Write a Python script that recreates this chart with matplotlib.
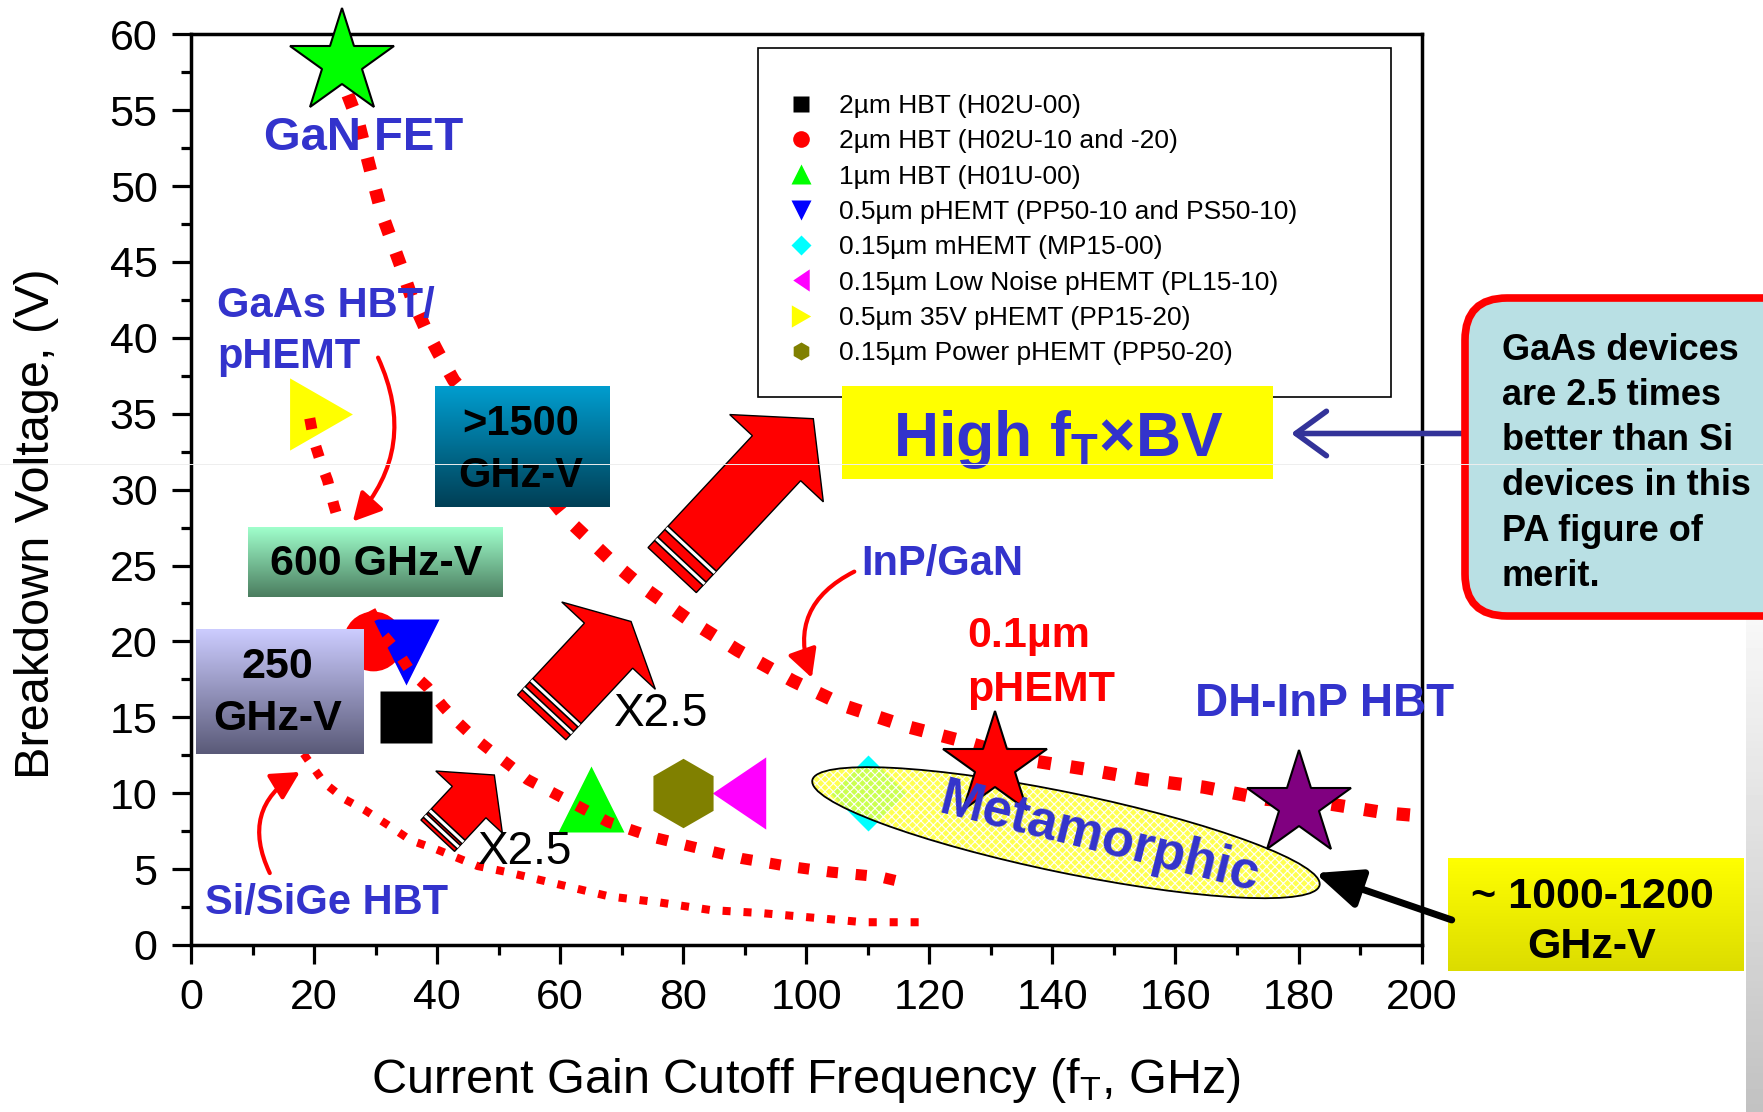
import numpy as np
import matplotlib.pyplot as plt
import matplotlib.patches as mpatches
import matplotlib.transforms as mtransforms
import matplotlib.colors as mcolors
from matplotlib.lines import Line2D

plt.rcParams['font.family'] = ['Liberation Sans', 'DejaVu Sans']
plt.rcParams['mathtext.fontset'] = 'custom'
plt.rcParams['mathtext.rm'] = 'Liberation Sans'
plt.rcParams['mathtext.it'] = 'Liberation Sans:italic'
plt.rcParams['mathtext.bf'] = 'Liberation Sans:bold'
plt.rcParams['hatch.linewidth'] = 0.8

BLUE = '#3333cc'

# foundry processes: cutoff frequency (GHz) and breakdown voltage (V)
process_names = ['2µm HBT (H02U-00)', '2µm HBT (H02U-10 and -20)', '1µm HBT (H01U-00)',
                 '0.5µm pHEMT (PP50-10 and PS50-10)', '0.15µm mHEMT (MP15-00)',
                 '0.15µm Low Noise pHEMT (PL15-10)', '0.5µm 35V pHEMT (PP15-20)',
                 '0.15µm Power pHEMT (PP50-20)']
process_ft = [35, 29.5, 65, 35, 110, 89, 21.2, 80]
process_bv = [15, 20, 9.6, 19.3, 10, 10, 35, 10]
process_colors = ['black', 'red', '#00ff00', 'blue', 'cyan', 'magenta', 'yellow', '#808000']

# other technologies shown as stars
star_ft = [24.5, 130.6, 180]
star_bv = [58.1, 11.8, 9.2]
star_colors = ['#00ff00', 'red', '#800080']

# constant ft*BV guide curves
high_ft = [25.5, 27.2, 28.5, 29.7, 31.0, 32.6, 34.3, 35.9, 38.0, 40.2, 42.7, 61.3, 68.6,
           73.0, 80.6, 88.9, 97.8, 106.6, 116.3, 125.7, 135.8, 145.2, 154.9, 164.6,
           174.7, 184.9, 194.2, 200.0]
high_bv = [56.0, 54.2, 52.1, 50.2, 48.2, 46.4, 44.5, 42.6, 40.7, 39.0, 37.2, 28.0, 25.2,
           23.7, 21.5, 19.4, 17.4, 15.7, 14.4, 13.4, 12.2, 11.6, 10.9, 10.4, 9.6, 9.3,
           8.7, 8.5]
gaas_ft = [19.3, 20.0, 21.1, 22.2, 23.2, 24.0, 27.9, 31.1, 33.6, 35.7, 38.4, 41.0, 43.3,
           45.9, 49.0, 51.9, 54.7, 61.3, 67.8, 75.1, 82.2, 89.5, 96.8, 104.1, 111.9, 116.0]
gaas_bv = [34.7, 33.2, 31.8, 30.6, 29.0, 27.9, 23.0, 20.5, 19.3, 18.0, 17.0, 15.7, 14.7,
           13.7, 12.7, 11.8, 10.9, 9.5, 8.1, 7.1, 6.4, 5.7, 5.2, 4.8, 4.5, 4.1]
si_ft = [18.3, 21.6, 25.0, 28.2, 32.4, 35.7, 39.9, 46.6, 51.4, 59.7, 68.0, 76.2, 84.5,
         92.8, 101.1, 109.3, 118.4]
si_bv = [12.6, 10.7, 9.6, 8.9, 7.8, 6.9, 6.3, 5.2, 4.8, 4.0, 3.2, 2.8, 2.3, 2.1, 1.8,
         1.5, 1.5]

x_ticks = list(range(0, 201, 20))
y_ticks = list(range(0, 61, 5))

tri_left = [(-0.74, 0), (0.74, 1), (0.74, -1), (-0.74, 0)]
tri_right = [(0.87, 0), (-0.87, 1), (-0.87, -1), (0.87, 0)]
process_markers = ['s', 'o', '^', 'v', 'D', tri_left, tri_right, 'h']
process_ms = [37, 43, 48, 48, 39, 52, 52, 50]
process_z = [2, 2, 2, 2.5, 2, 2, 2, 2]
legend_ms = [11, 12, 14, 14, 10, 16, 16, 13]

fig = plt.figure(figsize=(17.63, 11.12), dpi=100)
ax = fig.add_axes([0.10834, 0.15018, 0.69801, 0.81897])
ax.set_autoscale_on(False)
ax.set_xlim(0, 200)
ax.set_ylim(0, 60)


def anchored(x, y):
    # inch-based transform whose origin sits on a data point
    return fig.dpi_scale_trans + mtransforms.ScaledTranslation(x, y, ax.transData)


def gradient_box(x0, x1, y0, y1, top, bottom, z=5):
    t = np.linspace(0, 1, 128)[:, None, None]
    img = np.array(mcolors.to_rgb(top)) * (1 - t) + np.array(mcolors.to_rgb(bottom)) * t
    im = ax.imshow(img, extent=(x0, x1, y0, y1), origin='upper', aspect='auto',
                   interpolation='bilinear', zorder=z)
    im.set_clip_on(False)


def block_arrow(x, y, length, shaft, head_w, head_l, stripes, angle=47):
    k = 0.72
    L, s, hw, hl = length * k, shaft * k, head_w * k, head_l * k
    verts = [(0, -s / 2), (L - hl, -s / 2), (L - hl, -hw / 2), (L, 0),
             (L - hl, hw / 2), (L - hl, s / 2), (0, s / 2)]
    tr = mtransforms.Affine2D().rotate_deg(angle).scale(1 / 72) + anchored(x, y)
    ax.add_patch(mpatches.Polygon(verts, closed=True, fc='red', ec='black', lw=1,
                                  transform=tr, zorder=6, clip_on=False))
    for d in stripes:
        d = d * k
        ax.add_line(Line2D([d, d], [-s / 2, s / 2], color='black', lw=4.5,
                           transform=tr, zorder=6.1, solid_capstyle='butt'))
        ax.add_line(Line2D([d, d], [-s / 2, s / 2], color='white', lw=2.2,
                           transform=tr, zorder=6.2, solid_capstyle='butt'))


# legend frame
ax.add_patch(mpatches.Rectangle((92.1, 36.1), 102.9, 23.0, fc='white', ec='black',
                                lw=1.2, zorder=1))

# guide curves
ax.plot(high_ft, high_bv, color='red', lw=9.5, ls=(0, (1, 1.5)),
        dash_capstyle='butt', zorder=3)
ax.plot(gaas_ft, gaas_bv, color='red', lw=8, ls=(0, (1, 1.6)),
        dash_capstyle='butt', zorder=3)
ax.plot(si_ft, si_bv, color='red', lw=5.8, ls=(0, (1, 1.6)),
        dash_capstyle='butt', zorder=3)

# process points
for i in range(len(process_ft)):
    ax.plot(process_ft[i], process_bv[i], marker=process_markers[i], ms=process_ms[i],
            color=process_colors[i], mec='none', ls='none', zorder=process_z[i],
            clip_on=False)

# stars
for x, y, c in zip(star_ft, star_bv, star_colors):
    ax.plot(x, y, marker='*', ms=79, color=c, mec='black', mew=1.5, ls='none',
            zorder=4, clip_on=False)

# metamorphic region
ell_tr = anchored(142.2, 7.4)
ax.add_patch(mpatches.Ellipse((0, 0), 5.18, 0.80, angle=-11.7, transform=ell_tr,
                              fc=(1, 1, 0.15, 0.8), ec='white', lw=0, hatch='xxxx',
                              zorder=3.5, clip_on=False))
ax.add_patch(mpatches.Ellipse((0, 0), 5.18, 0.80, angle=-11.7, transform=ell_tr,
                              fc='none', ec='black', lw=1.3, zorder=3.6, clip_on=False))
ax.text(147.7, 7.0, 'Metamorphic', color=BLUE, fontsize=38, fontweight='bold',
        rotation=-14, rotation_mode='anchor', ha='center', va='center', zorder=6)

# figure-of-merit boxes
gradient_box(39.7, 68.1, 28.85, 36.8, '#009dcf', '#003f55')
ax.text(53.6, 32.6, '>1500\nGHz-V', fontsize=30, fontweight='bold', ha='center',
        va='center', linespacing=1.4, zorder=7)
gradient_box(9.3, 50.7, 22.9, 27.5, '#a0ffcc', '#4b7d5f')
ax.text(30.1, 25.1, '600 GHz-V', fontsize=31, fontweight='bold', ha='center',
        va='center', zorder=7)
gradient_box(0.8, 28.0, 12.6, 20.8, '#ccccff', '#5a5a78')
ax.text(14.1, 16.6, '250\nGHz-V', fontsize=31, fontweight='bold', ha='center',
        va='center', linespacing=1.38, zorder=7)
gradient_box(105.8, 175.7, 30.7, 36.8, 'yellow', 'yellow')
ax.text(140.9, 33.3, 'High f$_\\mathbf{T}$×BV', color=BLUE, fontsize=45,
        fontweight='bold', ha='center', va='center', zorder=7)
gradient_box(204.3, 252.4, -1.7, 5.7, '#ffff00', '#dcdc00')
ax.text(227.7, 1.5, '~ 1000-1200\nGHz-V', fontsize=31, fontweight='bold', ha='center',
        va='center', linespacing=1.32, zorder=7)

# block arrows
block_arrow(78.2, 24.7, 207, 66, 128, 54, [12, 27])
block_arrow(57.0, 15.0, 131, 66, 128, 33, [9, 20])
block_arrow(40.1, 7.2, 83, 46, 91, 37, [6, 13])

# text labels
ax.text(28.1, 53.2, 'GaN FET', color=BLUE, fontsize=34, fontweight='bold',
        ha='center', va='center', zorder=7)
ax.text(4.2, 40.4, 'GaAs HBT/\npHEMT', color=BLUE, fontsize=30, fontweight='bold',
        ha='left', va='center', linespacing=1.35, zorder=7)
ax.text(122.1, 25.1, 'InP/GaN', color=BLUE, fontsize=30, fontweight='bold',
        ha='center', va='center', zorder=7)
ax.text(126.1, 18.6, '0.1µm\npHEMT', color='red', fontsize=31, fontweight='bold',
        ha='left', va='center', linespacing=1.45, zorder=7)
ax.text(184.3, 15.9, 'DH-InP HBT', color=BLUE, fontsize=33, fontweight='bold',
        ha='center', va='center', zorder=7)
ax.text(22.1, 2.8, 'Si/SiGe HBT', color=BLUE, fontsize=30, fontweight='bold',
        ha='center', va='center', zorder=7)
ax.text(76.4, 15.2, 'X2.5', fontsize=33, ha='center', va='center', zorder=7)
ax.text(54.3, 6.1, 'X2.5', fontsize=33, ha='center', va='center', zorder=7)

# curved pointers
thin = dict(arrowstyle='-|>,head_length=0.85,head_width=0.45', color='red', lw=3,
            shrinkA=0, shrinkB=0, mutation_scale=20)
ax.annotate('', xy=(26.3, 27.9), xytext=(30.4, 38.7),
            arrowprops=dict(thin, connectionstyle='arc3,rad=-0.33'), zorder=7)
ax.annotate('', xy=(17.7, 11.4), xytext=(12.8, 4.74),
            arrowprops=dict(thin, connectionstyle='arc3,rad=-0.45'), zorder=7)
ax.annotate('', xy=(100.9, 17.6), xytext=(107.8, 24.6),
            arrowprops=dict(thin, connectionstyle='arc3,rad=0.44'), zorder=7)
ax.annotate('', xy=(178.8, 33.7), xytext=(207.1, 33.7), annotation_clip=False,
            arrowprops=dict(arrowstyle='->,head_length=1.1,head_width=0.8',
                            color='#333399', lw=4, shrinkA=0, shrinkB=0,
                            mutation_scale=20), zorder=7)
ax.annotate('', xy=(182.7, 4.74), xytext=(204.9, 1.65), annotation_clip=False,
            arrowprops=dict(arrowstyle='-|>,head_length=1.4,head_width=0.6',
                            color='black', lw=5, shrinkA=0, shrinkB=0,
                            mutation_scale=20), zorder=7)

# legend
handles = [Line2D([], [], marker=m, color=c, mec='none', ls='none', ms=s)
           for m, c, s in zip(process_markers, process_colors, legend_ms)]
leg = ax.legend(handles, process_names, loc='upper left', bbox_to_anchor=(0.4846, 0.9345),
                frameon=False, fontsize=19, handlelength=1.0, handletextpad=0.95,
                labelspacing=0.43, borderpad=0, borderaxespad=0)
leg.set_zorder(5)

# axes styling
ax.set_xticks(x_ticks)
ax.set_yticks(y_ticks)
ax.set_xticks(range(10, 200, 20), minor=True)
ax.set_yticks(np.arange(2.5, 60, 5), minor=True)
ax.tick_params(which='major', direction='out', length=14, width=2.3, labelsize=31,
               pad=10)
ax.tick_params(which='minor', direction='out', length=7, width=2.3)
for sp in ax.spines.values():
    sp.set_linewidth(2.5)
ax.set_xlabel('Current Gain Cutoff Frequency (f$_\\mathrm{T}$, GHz)', fontsize=35)
ax.set_ylabel('Breakdown Voltage, (V)', fontsize=35)
ax.xaxis.set_label_coords(0.5, -0.122)
ax.yaxis.set_label_coords(-0.107, 0.463)
ax.set_xlim(0, 200)
ax.set_ylim(0, 60)

# callout on the right
fig.add_artist(mpatches.FancyBboxPatch((14.65, 4.96), 3.4, 3.18,
                                       boxstyle='round,pad=0,rounding_size=0.42',
                                       transform=fig.dpi_scale_trans, fc='#b9e0e4',
                                       ec='red', lw=5.5, zorder=10))
fig.text(1502 / 1763, 0.5834,
         'GaAs devices\nare 2.5 times\nbetter than Si\ndevices in this\nPA figure of\nmerit.',
         fontsize=26, fontweight='bold', ha='left', va='center', linespacing=1.38,
         zorder=11)

# shaded page edge
strip = fig.add_axes([1746 / 1763, 0, 17 / 1763, 495 / 1112])
strip.imshow(np.linspace(0.97, 0.76, 64)[:, None], cmap='gray', vmin=0, vmax=1,
             aspect='auto')
strip.axis('off')

fig.add_artist(Line2D([0, 1], [1 - 464 / 1112] * 2, transform=fig.transFigure,
                      color='#eeeeee', lw=0.7, zorder=20))

fig.savefig('out.png', dpi=100)
